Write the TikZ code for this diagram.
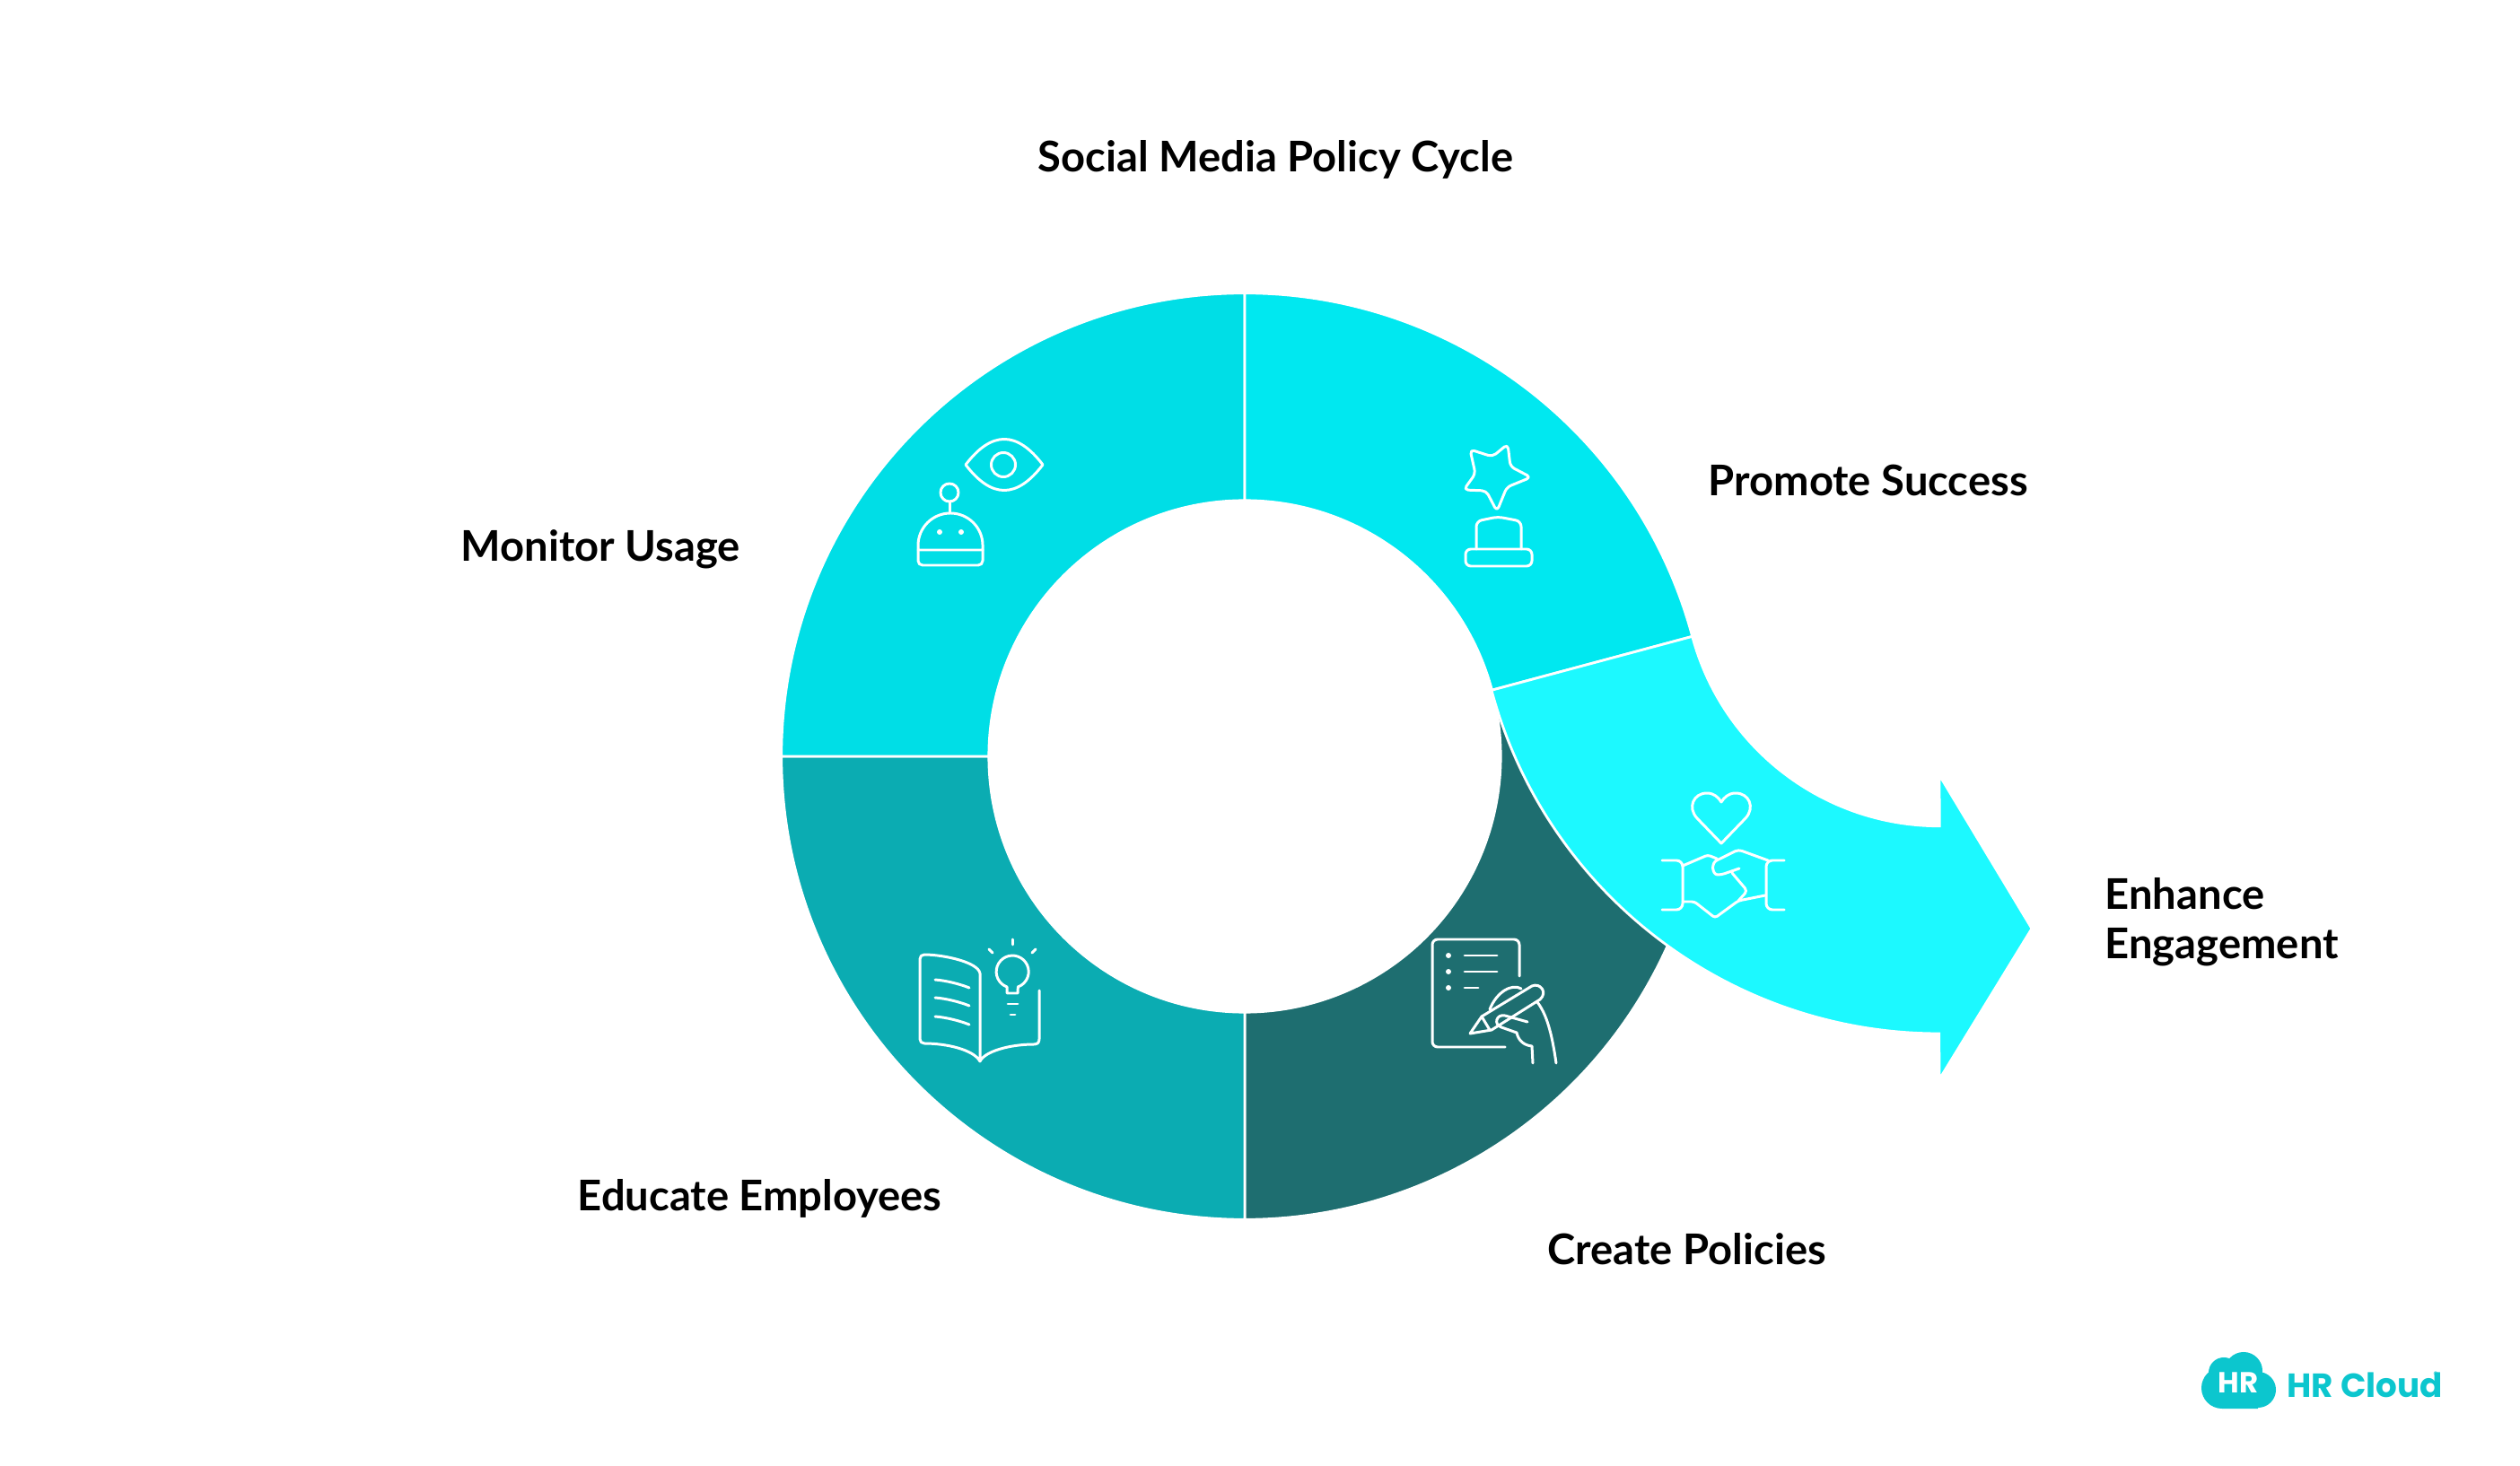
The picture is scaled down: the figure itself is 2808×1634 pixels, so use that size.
\documentclass[tikz,border=0pt]{standalone}
\usepackage{fontspec}
\setmainfont{Lato}
\newfontfamily\logofont{Poppins}
\usetikzlibrary{calc}
\definecolor{cMonitor}{HTML}{00DEE6}
\definecolor{cPromote}{HTML}{00E8F0}
\definecolor{cEnhance}{HTML}{1CF9FF}
\definecolor{cEducate}{HTML}{0BACB2}
\definecolor{cCreate}{HTML}{1E6E70}
\definecolor{cLogo}{HTML}{0CC6CE}
\tikzset{
  x=0.01cm,y=-0.01cm,
  seg/.style={draw=white,line width=0.8pt,line join=miter},
  ico/.style={draw=white,line width=0.85pt,line join=round,line cap=round,fill=none},
  dot/.style={fill=white,draw=none},
  lab/.style={font=\fontsize{13.4}{15.9}\selectfont\bfseries,text=black,inner sep=0pt,anchor=base west,align=left},
}
\begin{document}
\begin{tikzpicture}
\fill[white] (0,0) rectangle (2808,1634);
\useasboundingbox (0,0) rectangle (2808,1634);
\coordinate (c) at (1387,843);
\coordinate (d) at (2160.7,635.7);
% ring
\draw[seg,fill=cCreate] ($(c)+(-90:5.16cm)$) arc[start angle=-90,end angle=15,radius=5.16cm] -- ($(c)+(15:2.85cm)$) arc[start angle=15,end angle=-90,radius=2.85cm] -- cycle;
\draw[seg,fill=cEducate] ($(c)+(180:5.16cm)$) arc[start angle=180,end angle=270,radius=5.16cm] -- ($(c)+(270:2.85cm)$) arc[start angle=270,end angle=180,radius=2.85cm] -- cycle;
\draw[seg,fill=cMonitor] ($(c)+(90:5.16cm)$) arc[start angle=90,end angle=180,radius=5.16cm] -- ($(c)+(180:2.85cm)$) arc[start angle=180,end angle=90,radius=2.85cm] -- cycle;
\draw[seg,fill=cPromote] ($(c)+(90:5.16cm)$) arc[start angle=90,end angle=15,radius=5.16cm] -- ($(c)+(15:2.85cm)$) arc[start angle=15,end angle=90,radius=2.85cm] -- cycle;
% arrow
\draw[seg,fill=cEnhance] ($(c)+(15:5.16cm)$) arc[start angle=195,end angle=270,radius=2.85cm] -- (2161,864) -- (2264,1035) -- (2161,1203) -- ($(d)+(270:5.16cm)$) arc[start angle=270,end angle=195,radius=5.16cm] -- cycle;
% eye
\draw[ico] (1076,518) .. controls (1105,480) and (1133,480) .. (1162,518) .. controls (1133,556) and (1105,556) .. (1076,518) -- cycle;
\draw[ico] (1118,518) circle[radius=0.135cm];
% robot
\draw[ico] (1058,549) circle[radius=0.10cm];
\draw[ico] (1058,559) -- (1058,572);
\draw[ico,rounded corners=0.05cm] (1023,613) -- (1023,630) -- (1095,630) -- (1095,613);
\draw[ico] (1023,613) -- (1023,608) arc[start angle=180,end angle=0,radius=0.36cm] -- (1095,613) -- cycle;
\fill[dot] (1047,593) circle[radius=0.03cm] (1071,593) circle[radius=0.03cm];
% trophy
\draw[ico,rounded corners=0.05cm] (1638,501) -- (1663,509) -- (1680,495) -- (1683,520) -- (1706,532) -- (1679,543) -- (1668,570) -- (1656,547) -- (1631,546) -- (1644,528) -- cycle;
\draw[ico,rounded corners=0.06cm] (1633,631) -- (1633,612) -- (1707,612) -- (1707,631) -- cycle;
\draw[ico,rounded corners=0.06cm] (1645,612) -- (1645,581) -- (1669,576) -- (1695,581) -- (1695,612);
% heart
\draw[ico] (1918,940) -- (1891,912) .. controls (1880,900) and (1887,884) .. (1902,884) .. controls (1910,884) and (1915,889) .. (1918,894) .. controls (1921,889) and (1926,884) .. (1934,884) .. controls (1949,884) and (1956,900) .. (1945,912) -- cycle;
% hands
\draw[ico,rounded corners=0.07cm] (1852,959) -- (1875,959) -- (1875,1014) -- (1852,1014);
\draw[ico,rounded corners=0.07cm] (1988,959) -- (1968,959) -- (1968,1014) -- (1988,1014);
\draw[ico,rounded corners=0.03cm] (1875,965) -- (1903,953) -- (1913,957);
\draw[ico,rounded corners=0.03cm] (1875,1005) -- (1888,1005) -- (1911,1023) -- (1937,1004) -- (1967,998);
\draw[ico,rounded corners=0.04cm] (1970,959) -- (1937,947) -- (1917,957) .. controls (1906,962) and (1908,975) .. (1918,975) -- (1938,968);
\draw[ico,rounded corners=0.04cm] (1930,973) -- (1947,993) -- (1937,1004);
% book
\draw[ico] (1092,1183) -- (1092,1085) .. controls (1090,1072) and (1050,1064) .. (1030,1064) .. controls (1027,1064) and (1025,1066) .. (1025,1069) -- (1025,1158) .. controls (1025,1161) and (1027,1163) .. (1030,1163) .. controls (1055,1163) and (1085,1170) .. (1092,1183) .. controls (1097,1172) and (1125,1164) .. (1152,1164) .. controls (1156,1164) and (1158,1162) .. (1158,1158) -- (1158,1104);
\draw[ico] (1042,1092) .. controls (1055,1093) and (1070,1097) .. (1080,1101);
\draw[ico] (1042,1112) .. controls (1055,1113) and (1070,1117) .. (1080,1121);
\draw[ico] (1042,1133) .. controls (1055,1134) and (1070,1138) .. (1080,1142);
% bulb
\draw[ico] (1122,1107) -- (1122,1100) arc[start angle=-110,end angle=-430+0,radius=0.18cm] -- (1134,1107) -- cycle;
\draw[ico] (1123,1119) -- (1134,1119);
\draw[ico] (1126,1131) -- (1131,1131);
\draw[ico] (1128,1047) -- (1128,1053);
\draw[ico] (1102,1058) -- (1106,1062);
\draw[ico] (1154,1058) -- (1150,1062);
% page + pen
\draw[ico,rounded corners=0.06cm] (1693,1088) -- (1693,1047) -- (1596,1047) -- (1596,1167) -- (1677,1167);
\fill[dot] (1614,1065) circle[radius=0.03cm] (1614,1083) circle[radius=0.03cm] (1614,1101) circle[radius=0.03cm];
\draw[ico] (1632,1065) -- (1668,1065);
\draw[ico] (1632,1083) -- (1668,1083);
\draw[ico] (1632,1101) -- (1647,1101);
\draw[ico] (1638,1152) -- (1651,1133) -- (1707,1099) .. controls (1716,1095) and (1725,1106) .. (1716,1114) -- (1662,1148) -- cycle;
\draw[ico] (1651,1133) -- (1660,1148);
\draw[ico] (1713,1117) .. controls (1723,1130) and (1729,1150) .. (1734,1185);
\draw[ico] (1660,1125) .. controls (1668,1105) and (1685,1096) .. (1695,1102);
\draw[ico] (1702,1139) -- (1677,1132) .. controls (1667,1130) and (1664,1142) .. (1673,1145) -- (1690,1151) .. controls (1692,1160) and (1698,1165) .. (1707,1166) -- (1708,1185);
% labels
\node[lab] (title) at (1156,192) {Social Media Policy Cycle};
\node[lab] (promote) at (1903,553) {Promote Success};
\node[lab] (monitor) at (513,626) {Monitor Usage};
\node[lab] (educate) at (643,1349) {Educate Employees};
\node[lab] (create) at (1724,1409) {Create Policies};
\node[lab] (enhance) at (2345,1069) {Enhance\\Engagement};
% logo
\fill[cLogo] (2476,1547) circle[radius=0.23cm] (2478,1530) circle[radius=0.17cm] (2500,1528) circle[radius=0.21cm] (2516,1549) circle[radius=0.20cm] (2476,1540) rectangle (2516,1570);
\node[inner sep=0pt,text=white,font=\logofont\fontsize{9.2}{9.2}\selectfont\bfseries] (loghr) at (2494,1541) {HR};
\node[inner sep=0pt,anchor=base west,text=cLogo,font=\logofont\fontsize{10.6}{10.6}\selectfont\bfseries] (logtxt) at (2548,1557) {HR Cloud};
\node[inner sep=0pt,text=cLogo,font=\logofont\fontsize{3}{3}\selectfont] (logr) at (2714,1533) {®};
\end{tikzpicture}
\end{document}
